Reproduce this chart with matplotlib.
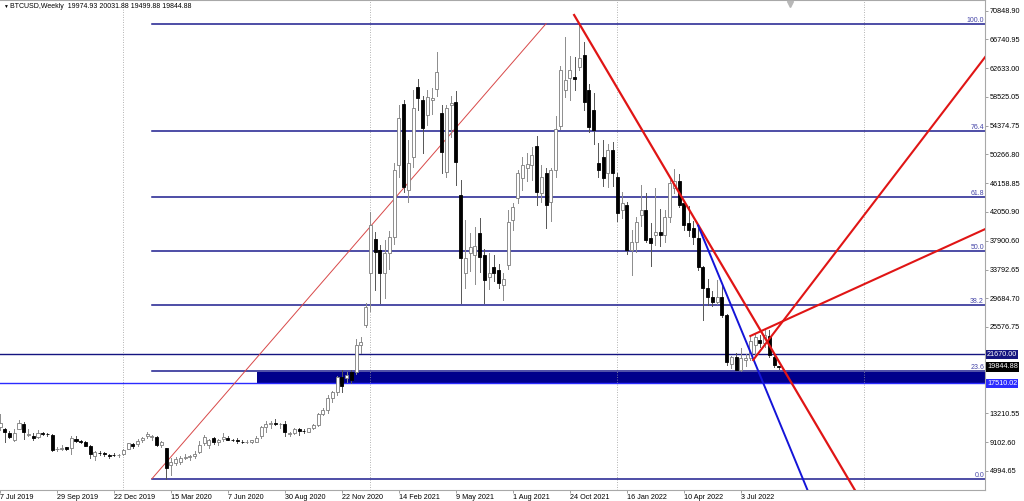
import matplotlib
matplotlib.use("Agg")
import matplotlib.pyplot as plt
from matplotlib.patches import Rectangle
from matplotlib.transforms import blended_transform_factory

plt.rcParams['font.family'] = ['Liberation Sans', 'DejaVu Sans']

symbol = "BTCUSD,Weekly"

# weekly bars, first bar = week of 7 Jul 2019
opens = [11300, 10900, 10450, 9350, 11000, 11700, 10150, 10000, 9750, 10350,
         10300, 10100, 8050, 8150, 8350, 8250, 9500, 9250, 9050, 8500,
         7050, 7600, 7500, 7300, 7300, 7200, 7350, 8150, 8750, 8800,
         9400, 9900, 9800, 9750, 8650, 8200, 5800, 6100, 6300, 6800,
         6900, 7100, 7700, 8900, 8700, 9650, 9100, 9500, 9700, 9450,
         9350, 9150, 9100, 9050, 9150, 9900, 11300, 11750, 11850, 11650,
         11650, 10300, 10400, 10900, 10700, 10600, 11050, 11500, 13050, 13700,
         15400, 16300, 18400, 18250, 19150, 19150, 23000, 25800, 33300, 38150,
         36600, 33300, 36100, 38500, 48750, 57450, 45200, 49950, 59900, 58050,
         55900, 58050, 59600, 56150, 47800, 57300, 57800, 44450, 33250, 36100,
         35900, 39000, 35900, 32700, 34200, 33700, 31600, 34450, 40900, 44000,
         46850, 48300, 48750, 51450, 44800, 47550, 43500, 48100, 54300, 59500,
         61150, 61300, 62850, 64500, 59500, 56600, 49100, 49950, 47570, 50900,
         47100, 42300, 43050, 36600, 37800, 41600, 42300, 38300, 38700, 39200,
         38800, 41350, 45400, 46400, 43300, 40400, 39700, 38300, 34200, 31100,
         29900, 29200, 29900, 27300, 20200, 21300, 19450, 20900, 21100, 23000,
         23700, 23300, 24300, 21300, 19974.93]
highs = [13100, 11100, 10650, 10900, 12300, 11900, 10900, 10350, 10800, 10500,
         10400, 10200, 8450, 8700, 8450, 9950, 9950, 9450, 9250, 8650,
         7850, 7750, 7650, 7450, 7600, 7450, 8150, 9000, 8950, 9500,
         9850, 10500, 10150, 9950, 9200, 8300, 6800, 6950, 7150, 7450,
         7300, 7750, 9200, 10050, 9600, 9850, 9600, 10400, 9950, 9600,
         9700, 9350, 9400, 9450, 9900, 11400, 12100, 12050, 12450, 11800,
         12050, 10600, 11100, 11100, 10950, 11100, 11700, 13300, 14000, 15900,
         16400, 18500, 19450, 19100, 19450, 23800, 24200, 29000, 42000, 39200,
         37300, 38000, 39300, 49000, 57300, 58000, 52400, 59500, 61000, 58600,
         59500, 59800, 65000, 57350, 57300, 58600, 59400, 46600, 40900, 39000,
         39900, 41100, 36700, 36100, 35900, 34600, 33300, 42300, 43300, 48100,
         49950, 50500, 51400, 52900, 48800, 48300, 48300, 55800, 62900, 67100,
         64300, 64200, 69000, 66400, 60300, 59000, 51900, 52300, 51800, 52000,
         47600, 44900, 43500, 39450, 41300, 45900, 44800, 40400, 45400, 42500,
         42300, 46600, 48200, 47400, 43400, 42900, 40800, 40100, 34300, 32500,
         30700, 32300, 31700, 27400, 21400, 21800, 22500, 21650, 24250, 24600,
         24400, 25200, 25200, 21800, 20031.88]
lows = [10800, 9150, 9650, 9200, 10900, 9600, 9900, 9400, 9650, 10050,
        9900, 7800, 7800, 7900, 7900, 7400, 9050, 8900, 8500, 6800,
        6550, 7250, 7150, 6800, 7050, 7000, 7300, 8050, 8300, 8600,
        9150, 9700, 9450, 8550, 8450, 3850, 4450, 5850, 5900, 6700,
        6500, 6800, 7500, 8700, 8200, 8850, 8650, 9300, 9350, 9200,
        8900, 8950, 8950, 8950, 9050, 9700, 10600, 11150, 11600, 11150,
        10000, 9900, 10200, 10150, 10400, 10500, 11000, 11400, 12900, 13300,
        14800, 15900, 16200, 17700, 17600, 18900, 21800, 25500, 27800, 30900,
        29000, 29700, 33800, 37500, 47000, 44900, 43500, 48500, 56600, 50500,
        54500, 56000, 58600, 47600, 47000, 52700, 45900, 29000, 31100, 33600,
        31700, 33400, 29000, 31000, 32100, 31100, 29400, 33800, 39400, 43300,
        45200, 46500, 46600, 43000, 43400, 39700, 40800, 47000, 53900, 58500,
        58000, 59500, 62300, 56700, 53500, 51700, 47100, 45700, 45600, 45700,
        40800, 41100, 36000, 33000, 36300, 40000, 37800, 34300, 37300, 37200,
        37700, 40600, 44800, 42700, 39500, 38600, 37500, 33700, 26500, 28700,
        28600, 28900, 27000, 20100, 19700, 19400, 19300, 20000, 20800, 21300,
        22700, 22700, 21300, 19800, 19499.88]
closes = [11800, 10500, 9750, 10350, 11850, 10500, 10300, 9700, 10350, 10300,
          10200, 8000, 8150, 8300, 8100, 9650, 9250, 9100, 8550, 7350,
          7700, 7500, 7350, 7150, 7200, 7250, 7950, 8900, 8600, 9250,
          9700, 10250, 10000, 8650, 9100, 5350, 6200, 6700, 6750, 6900,
          7100, 7400, 8700, 9850, 9350, 9050, 9450, 9850, 9450, 9350,
          9200, 9100, 9150, 9350, 9650, 11300, 11750, 11850, 11650, 11700,
          10500, 10350, 10900, 10700, 10650, 11050, 11500, 13050, 13700, 15400,
          16300, 18400, 17100, 18700, 18000, 23000, 23400, 28500, 40100, 36350,
          33300, 36100, 38500, 48050, 55450, 45650, 49050, 56900, 58300, 54000,
          58550, 58300, 62100, 50650, 56900, 57600, 49250, 35400, 35400, 37050,
          37200, 35650, 32300, 33300, 33250, 31800, 32400, 40650, 42800, 47550,
          48750, 48900, 50200, 44950, 47100, 43000, 48050, 53900, 62400, 60900,
          62350, 61050, 64050, 57800, 54250, 53800, 48050, 46850, 50900, 47600,
          41850, 43250, 36600, 37800, 40650, 42300, 38000, 37550, 39200, 38800,
          41300, 46150, 46400, 43050, 40200, 39500, 38500, 34200, 31100, 29900,
          29200, 29900, 27300, 20600, 21300, 19450, 21100, 21100, 23600, 24100,
          23300, 24400, 21500, 20100, 19844.88]

date_labels = ["7 Jul 2019", "29 Sep 2019", "22 Dec 2019", "15 Mar 2020", "7 Jun 2020",
               "30 Aug 2020", "22 Nov 2020", "14 Feb 2021", "9 May 2021", "1 Aug 2021",
               "24 Oct 2021", "16 Jan 2022", "10 Apr 2022", "3 Jul 2022"]
date_label_bars = [0, 12, 24, 36, 48, 60, 72, 84, 96, 108, 120, 132, 144, 156]
year_sep_bars = [26, 78, 130, 182]

price_ticks = [70848.90, 66740.95, 62633.00, 58525.05, 54374.75, 50266.80, 46158.85,
               42050.90, 37900.60, 33792.65, 29684.70, 25576.75, 13210.55, 9102.60, 4994.65]

# fibonacci retracement anchors (bar, price)
fib_start = (32, 3850)
fib_end = (115, 69000)
fib_levels = [0.0, 23.6, 38.2, 50.0, 61.8, 76.4, 100.0]

resist_level = 21670.00
support_level = 17510.02
zone_bar = 54.2
zone_top = 19170

# trend lines (bar, price) pairs
red_down = [(120.9, 70230), (180.1, 2130)]
blue_down = [(147.0, 40100), (170.1, 2130)]
red_up_steep = [(158.6, 20840), (207.5, 64260)]
red_up_flat = [(158.0, 24280), (207.5, 39600)]

fig = plt.figure(figsize=(10.24, 5.01), dpi=100)
ax = fig.add_axes([0, 11 / 501, 985 / 1024, 490 / 501])
ax.set_xlim(0.053, 207.42)
ax.set_ylim(2232, 72380)

# background zone + levels
ax.add_patch(Rectangle((zone_bar, support_level), 300, zone_top - support_level,
                       facecolor='#00008b', edgecolor='none', zorder=1))
ax.axhline(resist_level, color='#141480', lw=1.0, zorder=2)
ax.axhline(support_level, color='#2b2bff', lw=1.0, zorder=2)

for b in year_sep_bars:
    ax.axvline(b, color='#9a9a9a', ls=(0, (1, 2)), lw=0.6, zorder=1)

fib_range = fib_end[1] - fib_start[1]
ytr = ax.get_yaxis_transform()
for lv in fib_levels:
    p = fib_start[1] + fib_range * lv / 100
    ax.plot([fib_start[0], 300], [p, p], color='#1c1c8e', lw=1.1, zorder=2)
    ax.text(0.999, p, f"{lv:.1f}", transform=ytr, ha='right', va='bottom',
            fontsize=5, color='#4646a8', zorder=6)
ax.plot([fib_start[0], fib_end[0]], [fib_start[1], fib_end[1]], color='#d84848', lw=0.7, zorder=3)

# candles
for i, (o, h, l, c) in enumerate(zip(opens, highs, lows, closes)):
    bull = c >= o
    ax.plot([i, i], [l, h], color='#8c8c8c' if bull else '#555555', lw=0.7, zorder=4)
    lo = min(o, c)
    hgt = max(abs(c - o), 60)
    ax.add_patch(Rectangle((i - 0.32, lo), 0.64, hgt,
                           facecolor='white' if bull else 'black',
                           edgecolor='#7c7c7c' if bull else 'black', lw=0.6, zorder=5))

# trend lines
for seg, col, w in [(red_down, '#e01515', 1.6), (blue_down, '#1414d8', 1.4),
                    (red_up_steep, '#e01515', 1.5), (red_up_flat, '#e01515', 1.5)]:
    ax.plot([seg[0][0], seg[1][0]], [seg[0][1], seg[1][1]], color=col, lw=w, zorder=6)

# axes styling
for s in ['left']:
    ax.spines[s].set_visible(False)
for s in ['top', 'right', 'bottom']:
    ax.spines[s].set_color('#a8a8a8')
    ax.spines[s].set_linewidth(0.8)

ax.yaxis.tick_right()
ax.set_yticks(price_ticks)
ax.set_yticklabels([f"{v:.2f}" for v in price_ticks])
ax.tick_params(axis='y', length=2, width=0.6, color='#909090', labelsize=5.2, pad=1.5)

ax.set_xticks(date_label_bars)
ax.set_xticklabels(date_labels)
ax.tick_params(axis='x', length=2, width=0.6, color='#909090', labelsize=5.2, pad=1)
for lab in ax.get_xticklabels():
    lab.set_ha('left')

for val, bg in [(resist_level, '#141480'), (closes[-1], 'black'), (support_level, '#2b2bff')]:
    ax.text(1.002, val, f"{val:.2f}", transform=ytr, ha='left', va='center', fontsize=5.2,
            color='white', zorder=7, clip_on=False,
            bbox=dict(boxstyle='square,pad=0.15', fc=bg, ec='none'))

# chart shift marker
ax.plot([166.4], [0.992], transform=blended_transform_factory(ax.transData, ax.transAxes),
        marker='v', ms=5, color='#b8b8b8', clip_on=False, zorder=7)

header = f"{symbol}  {opens[-1]:.2f} {highs[-1]:.2f} {lows[-1]:.2f} {closes[-1]:.2f}"
fig.text(3 / 1024, 1 - 6 / 501, "\u25bc", fontsize=3.5, va='center')
fig.text(10 / 1024, 1 - 6 / 501, header, fontsize=5, va='center')

fig.savefig("out.png", dpi=100)
